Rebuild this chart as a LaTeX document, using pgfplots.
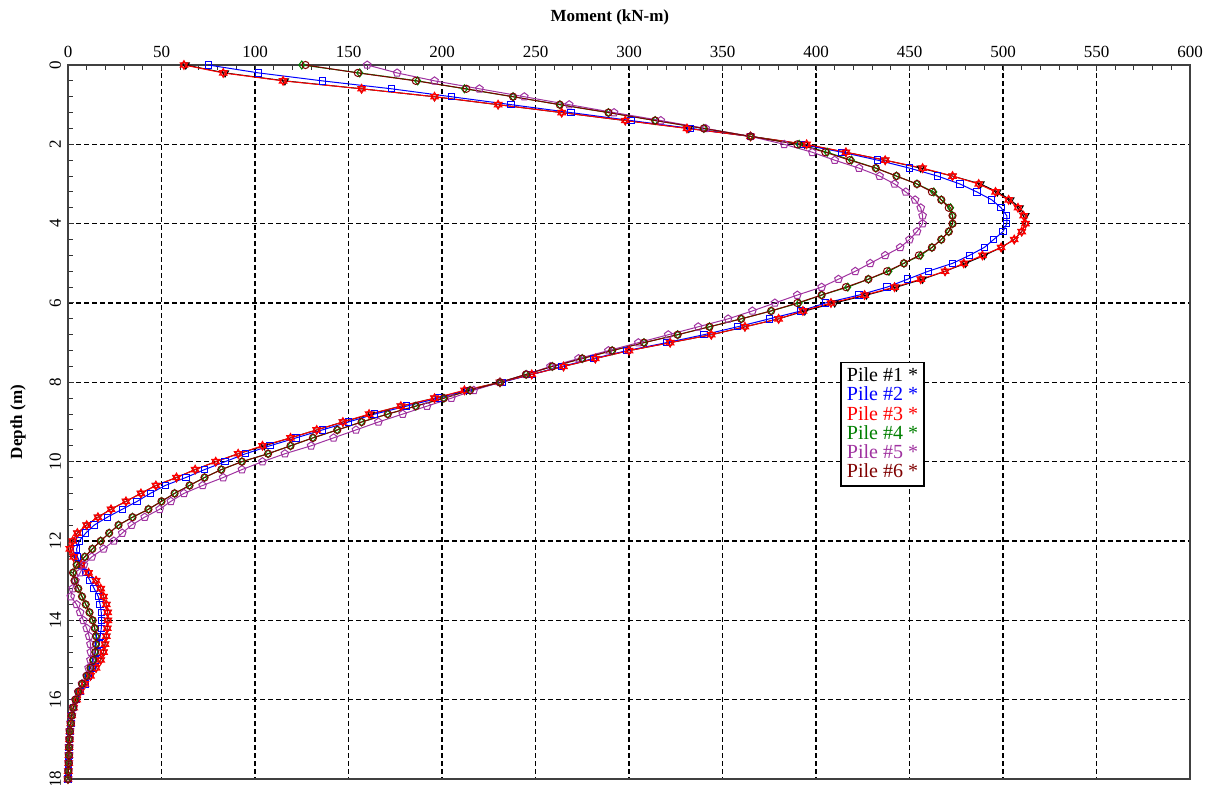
\documentclass[border=0pt]{standalone}
\usepackage{fontspec}
\setmainfont{Liberation Serif}
\usepackage{pgfplots}
\pgfplotsset{compat=1.18}
\usepackage{pgfplotstable}
\usetikzlibrary{plotmarks}
\definecolor{cblue}{RGB}{0,0,255}
\definecolor{cred}{RGB}{255,0,0}
\definecolor{cgreen}{RGB}{0,128,0}
\definecolor{cpurple}{RGB}{160,50,160}
\definecolor{cmaroon}{RGB}{128,0,0}
\pgfdeclareplotmark{hexagram}{%
  \pgfpathmoveto{\pgfqpointpolar{90}{\pgfplotmarksize}}%
  \pgfpathlineto{\pgfqpointpolar{210}{\pgfplotmarksize}}%
  \pgfpathlineto{\pgfqpointpolar{330}{\pgfplotmarksize}}%
  \pgfpathclose
  \pgfpathmoveto{\pgfqpointpolar{270}{\pgfplotmarksize}}%
  \pgfpathlineto{\pgfqpointpolar{30}{\pgfplotmarksize}}%
  \pgfpathlineto{\pgfqpointpolar{150}{\pgfplotmarksize}}%
  \pgfpathclose
  \pgfusepathqstroke}
\pgfplotstableread{
d    p1   p2   p3   p4   p5   p6
0.0  63   75   62   125  160  127
0.2  84   102  83   156  176  155
0.4  116  136  115  187  196  186
0.6  157  173  157  212  220  213
0.8  196  205  196  238  244  238
1.0  230  237  230  263  268  263
1.2  264  269  264  289  292  289
1.4  298  301  298  314  317  314
1.6  332  333  331  340  341  340
1.8  365  365  365  365  365  365
2.0  394  392  395  391  383  390
2.2  416  414  416  406  398  405
2.4  437  433  437  419  410  418
2.6  456  450  457  432  423  432
2.8  473  465  473  443  434  443
3.0  488  477  487  454  442  454
3.2  497  486  496  463  448  462
3.4  504  494  503  467  453  467
3.6  509  499  508  472  456  471
3.8  512  502  511  473  457  473
4.0  512  502  512  473  457  473
4.2  510  500  510  471  454  471
4.4  506  495  506  467  450  467
4.6  499  490  499  462  445  462
4.8  490  482  489  456  437  455
5.0  480  473  479  447  429  447
5.2  469  460  469  439  421  438
5.4  457  449  456  428  412  428
5.6  443  438  442  417  403  416
5.8  427  423  426  403  390  403
6.0  410  405  408  391  378  390
6.2  394  392  393  376  366  376
6.4  380  375  380  360  353  360
6.6  362  358  362  343  337  343
6.8  344  340  344  326  321  326
7.0  322  320  322  308  305  308
7.2  300  299  300  291  289  291
7.4  282  281  282  275  273  275
7.6  265  264  265  259  258  259
7.8  248  248  248  245  245  245
8.0  231  232  231  231  231  231
8.2  213  214  212  215  217  215
8.4  196  198  196  201  205  201
8.6  178  181  178  186  192  186
8.8  162  164  161  171  179  171
9.0  147  150  147  157  166  157
9.2  133  136  133  144  154  144
9.4  119  122  119  131  142  131
9.6  105  108  104  119  130  119
9.8  91   95   91   107  116  107
10.0 79   84   79   93   104  93
10.2 68   73   68   82   93   82
10.4 58   63   58   73   83   73
10.6 47   52   47   65   72   65
10.8 39   44   39   57   62   57
11.0 31   37   31   50   55   50
11.2 23   29   23   43   49   43
11.4 16   21   16   34.5 41   34.5
11.6 10   14   10   27   34   27
11.8 5    9.5  5    22   29   22
12.0 2.5  6    2.5  17.5 24.5 17.5
12.2 1.2  4.6  1    13   19   13
12.4 3    5    3    9    12.7 9
12.6 7    7.3  7    4.6  8.5  4.6
12.8 11   9.5  11   2.7  6.5  2.7
13.0 15   11.8 15   3.5  4    3.5
13.2 17.5 14   17.5 5.5  2.5  5.5
13.4 19   16.2 19   7.5  1.5  7.5
13.6 20.5 17.2 20.5 9.5  4.6  9.5
13.8 21.2 17.8 21.2 11.5 6.5  11.5
14.0 21.3 18   21.3 13.2 8.2  13.2
14.2 21   17.8 21   14.3 10   14.3
14.4 20.5 17.2 20.5 15   11.3 15
14.6 19.8 16.5 19.8 15   12   15
14.8 19   15.8 19   14.6 12.2 14.6
15.0 17.5 14.8 17.5 13.5 12   13.5
15.2 15   13   15   12   11   12
15.4 12   11   12   10   10   10
15.6 9    9    9    7.5  7.5  7.5
15.8 6.5  6.5  6.5  5.5  5.5  5.5
16.0 4.6  4.5  4.6  4    4    4
16.2 3    3    3    2.8  2.8  2.8
16.4 2    2    2    2    2    2
16.6 1.5  1.5  1.5  1.5  1.5  1.5
16.8 1    1    1    1    1    1
17.0 0.8  0.8  0.8  0.8  0.8  0.8
17.2 0.6  0.6  0.6  0.6  0.6  0.6
17.4 0.5  0.5  0.5  0.5  0.5  0.5
17.6 0.4  0.4  0.4  0.4  0.4  0.4
17.8 0.2  0.2  0.2  0.2  0.2  0.2
18.0 0    0    0    0    0    0
}\piles
\begin{document}
\begin{tikzpicture}
\begin{axis}[
  name=ax,
  scale only axis,
  width=561pt, height=357pt,
  xmin=0, xmax=600, ymin=0, ymax=18,
  y dir=reverse,
  xtick={0,50,...,600}, ytick={0,2,...,18},
  minor x tick num=4, minor y tick num=4,
  xtick pos=upper, xticklabel pos=upper,
  ytick pos=left,
  tick align=inside,
  major tick length=3pt, minor tick length=2.5pt,
  tick style={black!80, line width=0.5pt},
  axis line style={black!75, line width=0.8pt},
  grid=major,
  major grid style={black, line width=0.6pt, dash pattern=on 2.5pt off 1.5pt},
  /pgf/number format/assume math mode=true,
  ticklabel style={font=\fontsize{8.5}{10}\selectfont},
  yticklabel style={rotate=90},
  xlabel={\textbf{Moment (kN-m)}},
  xlabel style={font=\fontsize{8.5}{10}\selectfont, at={(axis description cs:0.483,1)}, anchor=center, yshift=24pt},
  every axis plot/.append style={line width=0.5pt},
  legend image code/.code={},
  legend cell align=left,
  legend style={at={(axis cs:413,7.49)}, anchor=north west, draw=black, line width=0.6pt,
    font=\fontsize{10}{10.4}\selectfont, inner xsep=1pt, inner ysep=0.5pt, row sep=-2.8pt,
    /tikz/every even column/.style={column sep=0pt}},
]
\addplot[black, mark=triangle, mark size=2pt, mark options={rotate=180, solid}] table[x=p1, y=d] {\piles};
\addlegendentry{\textcolor{black}{Pile \#1 *}}
\addplot[cblue, mark=square, mark size=1.6pt, mark options={solid}] table[x=p2, y=d] {\piles};
\addlegendentry{\textcolor{cblue}{Pile \#2 *}}
\addplot[cred, mark=hexagram, mark size=2.2pt, mark options={solid}] table[x=p3, y=d] {\piles};
\addlegendentry{\textcolor{cred}{Pile \#3 *}}
\addplot[cgreen, mark=diamond, mark size=2pt, mark options={solid}] table[x=p4, y=d] {\piles};
\addlegendentry{\textcolor{cgreen}{Pile \#4 *}}
\addplot[cpurple, mark=pentagon, mark size=2pt, mark options={solid}] table[x=p5, y=d] {\piles};
\addlegendentry{\textcolor{cpurple}{Pile \#5 *}}
\addplot[cmaroon, mark=o, mark size=1.8pt, mark options={solid}] table[x=p6, y=d] {\piles};
\addlegendentry{\textcolor{cmaroon}{Pile \#6 *}}
\end{axis}
\node[rotate=90, font=\fontsize{8.5}{10}\selectfont\bfseries] at ([xshift=-25pt]ax.west) {Depth (m)};
\pgfresetboundingbox
\path[use as bounding box] ([xshift=-34pt,yshift=-3pt]ax.south west) rectangle ([xshift=12.5pt,yshift=32.5pt]ax.north east);
\end{tikzpicture}
\end{document}
